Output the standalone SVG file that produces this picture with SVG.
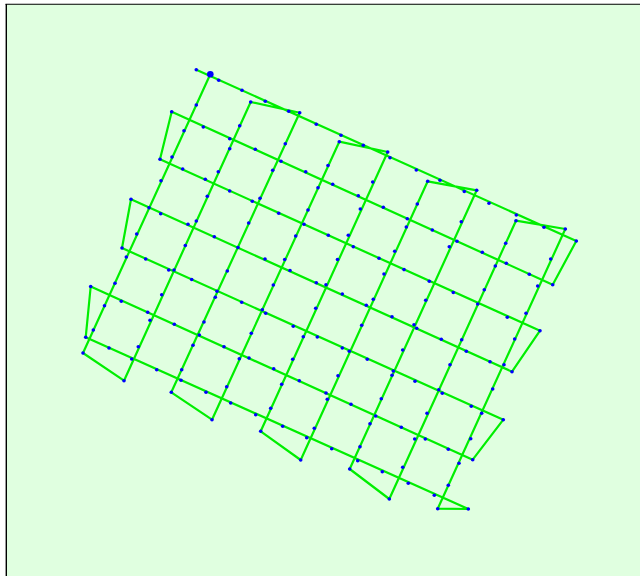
<svg xmlns="http://www.w3.org/2000/svg" width="640" height="576" viewBox="0 0 640 576">
<style>
.route{fill:none;stroke:#00ee00;stroke-width:2.2;stroke-linejoin:round;stroke-linecap:round}
.wp{fill:#0000ff}
.frame{stroke:#000;fill:none}
</style>
<rect x="0" y="0" width="640" height="576" fill="#ffffff"/>
<rect x="6" y="4" width="634" height="572" fill="#e0ffe0"/>
<line class="frame" x1="5.5" y1="4.2" x2="640" y2="4.2" stroke-width="1.1"/>
<line class="frame" x1="6.3" y1="4" x2="6.3" y2="576" stroke-width="1.4"/>
<g id="connectors">
<polyline class="route" points="196.3,69.7 576.3,241 552.7,284.7 171.7,111.7 160,159.3 540,330.7 512,371.7 131,199.3 122,248 503.3,419.7 472.7,459.7 90.7,286.5 85.7,337.3 468.3,509 437.7,508.7 565.3,229 516,220.7 389.3,499 349.7,469 476.7,190.3 427.7,181.3 300.7,460 260.7,431.3 387.7,152 339.3,141.7 212,419.7 171.3,392.3 299.7,112.7 250.7,102 124,380.7 83,353 210.3,74.3"/>
</g>
<g id="waypoints">
<circle class="wp" cx="196.3" cy="69.7" r="1.8"/>
<circle class="wp" cx="218.7" cy="80.3" r="1.8"/>
<circle class="wp" cx="242" cy="90.3" r="1.8"/>
<circle class="wp" cx="265.3" cy="101.3" r="1.8"/>
<circle class="wp" cx="288.7" cy="111.3" r="1.8"/>
<circle class="wp" cx="299.7" cy="112.7" r="1.8"/>
<circle class="wp" cx="316.3" cy="124.3" r="1.8"/>
<circle class="wp" cx="250.7" cy="102" r="1.8"/>
<circle class="wp" cx="171.7" cy="111.7" r="1.8"/>
<circle class="wp" cx="203.3" cy="127" r="1.8"/>
<circle class="wp" cx="229.7" cy="138.7" r="1.8"/>
<circle class="wp" cx="255.3" cy="149.3" r="1.8"/>
<circle class="wp" cx="281" cy="161.3" r="1.8"/>
<circle class="wp" cx="305.7" cy="171.7" r="1.8"/>
<circle class="wp" cx="239.7" cy="125.7" r="1.8"/>
<circle class="wp" cx="229.7" cy="148.7" r="1.8"/>
<circle class="wp" cx="218.3" cy="171.7" r="1.8"/>
<circle class="wp" cx="285.3" cy="143.7" r="1.8"/>
<circle class="wp" cx="272.7" cy="170.3" r="1.8"/>
<circle class="wp" cx="196.3" cy="105" r="1.8"/>
<circle class="wp" cx="184" cy="130.7" r="1.8"/>
<circle class="wp" cx="172" cy="157" r="1.8"/>
<circle class="wp" cx="161" cy="180.7" r="1.8"/>
<circle class="wp" cx="160" cy="159.3" r="1.8"/>
<circle class="wp" cx="182.7" cy="169" r="1.8"/>
<circle class="wp" cx="205.3" cy="179.3" r="1.8"/>
<circle class="wp" cx="341" cy="135.3" r="1.8"/>
<circle class="wp" cx="339.3" cy="141.7" r="1.8"/>
<circle class="wp" cx="363.3" cy="145.3" r="1.8"/>
<circle class="wp" cx="387.7" cy="152" r="1.8"/>
<circle class="wp" cx="390" cy="157.7" r="1.8"/>
<circle class="wp" cx="416.3" cy="170" r="1.8"/>
<circle class="wp" cx="427.7" cy="181.3" r="1.8"/>
<circle class="wp" cx="440" cy="180.3" r="1.8"/>
<circle class="wp" cx="464.3" cy="191.5" r="1.8"/>
<circle class="wp" cx="328" cy="165.5" r="1.8"/>
<circle class="wp" cx="318" cy="187.7" r="1.8"/>
<circle class="wp" cx="332.7" cy="184.3" r="1.8"/>
<circle class="wp" cx="358.3" cy="195.7" r="1.8"/>
<circle class="wp" cx="383.3" cy="207.3" r="1.8"/>
<circle class="wp" cx="407.3" cy="218.7" r="1.8"/>
<circle class="wp" cx="432.3" cy="230" r="1.8"/>
<circle class="wp" cx="457" cy="241.2" r="1.8"/>
<circle class="wp" cx="372.7" cy="182" r="1.8"/>
<circle class="wp" cx="360.3" cy="209" r="1.8"/>
<circle class="wp" cx="348.3" cy="235.3" r="1.8"/>
<circle class="wp" cx="353.3" cy="246.7" r="1.8"/>
<circle class="wp" cx="308" cy="210" r="1.8"/>
<circle class="wp" cx="304" cy="224.3" r="1.8"/>
<circle class="wp" cx="328.3" cy="235.3" r="1.8"/>
<circle class="wp" cx="417.3" cy="204" r="1.8"/>
<circle class="wp" cx="406.3" cy="227" r="1.8"/>
<circle class="wp" cx="461.3" cy="221.7" r="1.8"/>
<circle class="wp" cx="449.3" cy="246.8" r="1.8"/>
<circle class="wp" cx="476.7" cy="190.3" r="1.8"/>
<circle class="wp" cx="489" cy="203.3" r="1.8"/>
<circle class="wp" cx="516.3" cy="215" r="1.8"/>
<circle class="wp" cx="516" cy="220.7" r="1.8"/>
<circle class="wp" cx="544" cy="227.3" r="1.8"/>
<circle class="wp" cx="565.3" cy="229" r="1.8"/>
<circle class="wp" cx="576.3" cy="241" r="1.8"/>
<circle class="wp" cx="482.3" cy="252.3" r="1.8"/>
<circle class="wp" cx="506.3" cy="263.3" r="1.8"/>
<circle class="wp" cx="529.3" cy="274.3" r="1.8"/>
<circle class="wp" cx="552.7" cy="284.7" r="1.8"/>
<circle class="wp" cx="505.7" cy="243.3" r="1.8"/>
<circle class="wp" cx="495.3" cy="266" r="1.8"/>
<circle class="wp" cx="484.3" cy="289.7" r="1.8"/>
<circle class="wp" cx="550.7" cy="259" r="1.8"/>
<circle class="wp" cx="537.7" cy="286" r="1.8"/>
<circle class="wp" cx="453.3" cy="292.5" r="1.8"/>
<circle class="wp" cx="131" cy="199.3" r="1.8"/>
<circle class="wp" cx="149" cy="207.7" r="1.8"/>
<circle class="wp" cx="160.7" cy="213.7" r="1.8"/>
<circle class="wp" cx="188" cy="224.3" r="1.8"/>
<circle class="wp" cx="196.3" cy="221" r="1.8"/>
<circle class="wp" cx="214.3" cy="236.7" r="1.8"/>
<circle class="wp" cx="238" cy="247.5" r="1.8"/>
<circle class="wp" cx="229.7" cy="191" r="1.8"/>
<circle class="wp" cx="207.3" cy="196.2" r="1.8"/>
<circle class="wp" cx="136.7" cy="234" r="1.8"/>
<circle class="wp" cx="122" cy="248" r="1.8"/>
<circle class="wp" cx="126.3" cy="257" r="1.8"/>
<circle class="wp" cx="145.7" cy="259" r="1.8"/>
<circle class="wp" cx="168.7" cy="270" r="1.8"/>
<circle class="wp" cx="174" cy="270" r="1.8"/>
<circle class="wp" cx="191.7" cy="279.5" r="1.8"/>
<circle class="wp" cx="185.3" cy="245.5" r="1.8"/>
<circle class="wp" cx="227.3" cy="271" r="1.8"/>
<circle class="wp" cx="217" cy="291.2" r="1.8"/>
<circle class="wp" cx="215.3" cy="297.3" r="1.8"/>
<circle class="wp" cx="241.7" cy="302.3" r="1.8"/>
<circle class="wp" cx="115" cy="283.3" r="1.8"/>
<circle class="wp" cx="90.7" cy="286.5" r="1.8"/>
<circle class="wp" cx="121.3" cy="301.3" r="1.8"/>
<circle class="wp" cx="104.5" cy="305.7" r="1.8"/>
<circle class="wp" cx="161.7" cy="294.8" r="1.8"/>
<circle class="wp" cx="147.7" cy="312.3" r="1.8"/>
<circle class="wp" cx="150" cy="320.3" r="1.8"/>
<circle class="wp" cx="174.3" cy="324.3" r="1.8"/>
<circle class="wp" cx="199.3" cy="335" r="1.8"/>
<circle class="wp" cx="204" cy="322" r="1.8"/>
<circle class="wp" cx="193" cy="345.3" r="1.8"/>
<circle class="wp" cx="224" cy="346.7" r="1.8"/>
<circle class="wp" cx="239.3" cy="358.7" r="1.8"/>
<circle class="wp" cx="93.3" cy="330" r="1.8"/>
<circle class="wp" cx="85.7" cy="337.3" r="1.8"/>
<circle class="wp" cx="83" cy="353" r="1.8"/>
<circle class="wp" cx="109" cy="348" r="1.8"/>
<circle class="wp" cx="138.3" cy="346.7" r="1.8"/>
<circle class="wp" cx="131.7" cy="359" r="1.8"/>
<circle class="wp" cx="156.7" cy="369.7" r="1.8"/>
<circle class="wp" cx="124" cy="380.7" r="1.8"/>
<circle class="wp" cx="181.7" cy="369.7" r="1.8"/>
<circle class="wp" cx="181" cy="380.3" r="1.8"/>
<circle class="wp" cx="171.3" cy="392.3" r="1.8"/>
<circle class="wp" cx="206" cy="392.3" r="1.8"/>
<circle class="wp" cx="226.7" cy="386.7" r="1.8"/>
<circle class="wp" cx="230.7" cy="403" r="1.8"/>
<circle class="wp" cx="212" cy="419.7" r="1.8"/>
<circle class="wp" cx="265" cy="259" r="1.8"/>
<circle class="wp" cx="284.7" cy="259.5" r="1.8"/>
<circle class="wp" cx="290" cy="270.5" r="1.8"/>
<circle class="wp" cx="295.7" cy="236" r="1.8"/>
<circle class="wp" cx="337.5" cy="259.5" r="1.8"/>
<circle class="wp" cx="379" cy="258.3" r="1.8"/>
<circle class="wp" cx="394.7" cy="251.3" r="1.8"/>
<circle class="wp" cx="384" cy="274" r="1.8"/>
<circle class="wp" cx="404" cy="269.6" r="1.8"/>
<circle class="wp" cx="273.3" cy="285" r="1.8"/>
<circle class="wp" cx="316.3" cy="282.7" r="1.8"/>
<circle class="wp" cx="326" cy="284.7" r="1.8"/>
<circle class="wp" cx="342.3" cy="294" r="1.8"/>
<circle class="wp" cx="366.3" cy="305.3" r="1.8"/>
<circle class="wp" cx="373.3" cy="299.3" r="1.8"/>
<circle class="wp" cx="392" cy="316.7" r="1.8"/>
<circle class="wp" cx="262.3" cy="309.7" r="1.8"/>
<circle class="wp" cx="265.7" cy="313.3" r="1.8"/>
<circle class="wp" cx="315.7" cy="308.3" r="1.8"/>
<circle class="wp" cx="293.3" cy="326.3" r="1.8"/>
<circle class="wp" cx="251.3" cy="333.3" r="1.8"/>
<circle class="wp" cx="303.3" cy="336.7" r="1.8"/>
<circle class="wp" cx="317.3" cy="337" r="1.8"/>
<circle class="wp" cx="361.7" cy="325.3" r="1.8"/>
<circle class="wp" cx="342.3" cy="348" r="1.8"/>
<circle class="wp" cx="349.3" cy="351.3" r="1.8"/>
<circle class="wp" cx="367.3" cy="359.3" r="1.8"/>
<circle class="wp" cx="393.3" cy="371" r="1.8"/>
<circle class="wp" cx="392" cy="375.3" r="1.8"/>
<circle class="wp" cx="249" cy="358" r="1.8"/>
<circle class="wp" cx="273.7" cy="368.7" r="1.8"/>
<circle class="wp" cx="292.7" cy="359.3" r="1.8"/>
<circle class="wp" cx="338" cy="375.7" r="1.8"/>
<circle class="wp" cx="248.7" cy="223" r="1.8"/>
<circle class="wp" cx="252.3" cy="201.3" r="1.8"/>
<circle class="wp" cx="260" cy="198.3" r="1.8"/>
<circle class="wp" cx="278.7" cy="213.3" r="1.8"/>
<circle class="wp" cx="429.3" cy="281.3" r="1.8"/>
<circle class="wp" cx="477.7" cy="304" r="1.8"/>
<circle class="wp" cx="507.3" cy="317.3" r="1.8"/>
<circle class="wp" cx="540" cy="330.7" r="1.8"/>
<circle class="wp" cx="526" cy="313.3" r="1.8"/>
<circle class="wp" cx="514.7" cy="339" r="1.8"/>
<circle class="wp" cx="504" cy="364.7" r="1.8"/>
<circle class="wp" cx="512" cy="371.7" r="1.8"/>
<circle class="wp" cx="490" cy="361.7" r="1.8"/>
<circle class="wp" cx="466.3" cy="351.3" r="1.8"/>
<circle class="wp" cx="461.7" cy="339.7" r="1.8"/>
<circle class="wp" cx="450" cy="364.7" r="1.8"/>
<circle class="wp" cx="441.3" cy="339.3" r="1.8"/>
<circle class="wp" cx="416.7" cy="328.3" r="1.8"/>
<circle class="wp" cx="414" cy="324.7" r="1.8"/>
<circle class="wp" cx="425.7" cy="300.3" r="1.8"/>
<circle class="wp" cx="402.7" cy="350" r="1.8"/>
<circle class="wp" cx="381.3" cy="398.7" r="1.8"/>
<circle class="wp" cx="415" cy="381.3" r="1.8"/>
<circle class="wp" cx="438.7" cy="389.7" r="1.8"/>
<circle class="wp" cx="442.3" cy="393.3" r="1.8"/>
<circle class="wp" cx="492.7" cy="389" r="1.8"/>
<circle class="wp" cx="471.3" cy="406.3" r="1.8"/>
<circle class="wp" cx="481.7" cy="413.2" r="1.8"/>
<circle class="wp" cx="503.3" cy="419.7" r="1.8"/>
<circle class="wp" cx="427" cy="413.3" r="1.8"/>
<circle class="wp" cx="401.3" cy="427.3" r="1.8"/>
<circle class="wp" cx="281.7" cy="384.3" r="1.8"/>
<circle class="wp" cx="299.3" cy="380.7" r="1.8"/>
<circle class="wp" cx="326" cy="393" r="1.8"/>
<circle class="wp" cx="327.3" cy="399.3" r="1.8"/>
<circle class="wp" cx="351" cy="404.3" r="1.8"/>
<circle class="wp" cx="375.7" cy="416" r="1.8"/>
<circle class="wp" cx="370" cy="423.7" r="1.8"/>
<circle class="wp" cx="270.7" cy="408.3" r="1.8"/>
<circle class="wp" cx="255.7" cy="414.7" r="1.8"/>
<circle class="wp" cx="282.7" cy="426.3" r="1.8"/>
<circle class="wp" cx="314.3" cy="428.3" r="1.8"/>
<circle class="wp" cx="306.7" cy="437.7" r="1.8"/>
<circle class="wp" cx="260.7" cy="431.3" r="1.8"/>
<circle class="wp" cx="300.7" cy="460" r="1.8"/>
<circle class="wp" cx="331.7" cy="448.7" r="1.8"/>
<circle class="wp" cx="360" cy="446.7" r="1.8"/>
<circle class="wp" cx="357.7" cy="460.7" r="1.8"/>
<circle class="wp" cx="349.7" cy="469" r="1.8"/>
<circle class="wp" cx="382.3" cy="471.7" r="1.8"/>
<circle class="wp" cx="402.7" cy="467.3" r="1.8"/>
<circle class="wp" cx="389.3" cy="499" r="1.8"/>
<circle class="wp" cx="408.3" cy="483.3" r="1.8"/>
<circle class="wp" cx="414.7" cy="439" r="1.8"/>
<circle class="wp" cx="425.3" cy="439" r="1.8"/>
<circle class="wp" cx="448.3" cy="449.3" r="1.8"/>
<circle class="wp" cx="470.7" cy="438.7" r="1.8"/>
<circle class="wp" cx="472.7" cy="459.7" r="1.8"/>
<circle class="wp" cx="459" cy="463.3" r="1.8"/>
<circle class="wp" cx="434.3" cy="495.3" r="1.8"/>
<circle class="wp" cx="448.3" cy="485.3" r="1.8"/>
<circle class="wp" cx="437.7" cy="508.7" r="1.8"/>
<circle class="wp" cx="468.3" cy="509" r="1.8"/>
</g>
<g id="home">
<circle cx="210.3" cy="74.3" r="3.3" fill="#0000ff"/>
</g>
</svg>
